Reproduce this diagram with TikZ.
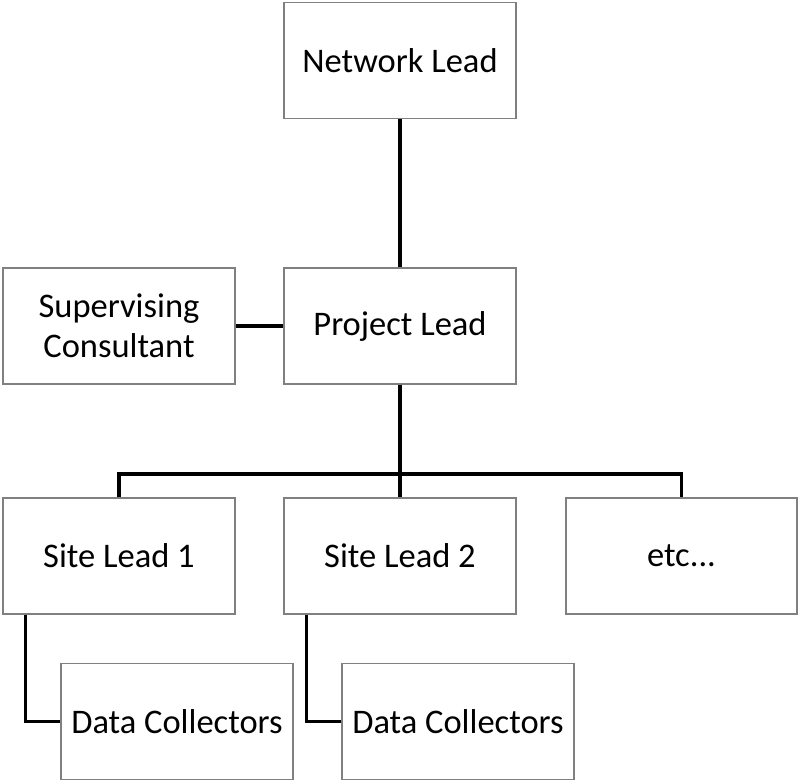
\documentclass[tikz,border=0pt]{standalone}
\usepackage{fontspec}
\setmainfont{Carlito}
\usetikzlibrary{calc}
\begin{document}
\begin{tikzpicture}[x=1pt,y=-1pt,
  orgbox/.style={draw=black!50, line width=1.2pt, fill=white, rectangle, inner sep=0pt,
    minimum width=232pt, minimum height=116pt, align=center,
    font=\fontsize{34.5}{40}\selectfont},
  link/.style={draw=black, line width=3.4pt}]
\useasboundingbox (0,0) rectangle (800,783);
\node[orgbox] (NL) at (400,60.5) {Network Lead};
\node[orgbox] (PL) at (400,326) {Project Lead};
\node[orgbox] (SC) at (119,326) {Supervising\\Consultant};
\node[orgbox] (SL1) at (119,556) {Site Lead 1};
\node[orgbox] (SL2) at (400,556) {Site Lead 2};
\node[orgbox, minimum width=231pt] (ETC) at (681.5,556) {etc...};
\node[orgbox] (DC1) at (177,721.5) {Data Collectors};
\node[orgbox] (DC2) at (458,721.5) {Data Collectors};
\coordinate (bus) at (400,474);
\draw[link] (NL.south) -- (PL.north);
\draw[link] (SC.east) -- (PL.west);
\draw[link] (PL.south) -- (bus);
\draw[link] (SL1.north) |- (bus) -| (ETC.north);
\draw[link] (bus) -- (SL2.north);
\draw[link] ($(SL1.south west)+(23,0)$) |- (DC1.west);
\draw[link] ($(SL2.south west)+(23,0)$) |- (DC2.west);
\end{tikzpicture}
\end{document}
